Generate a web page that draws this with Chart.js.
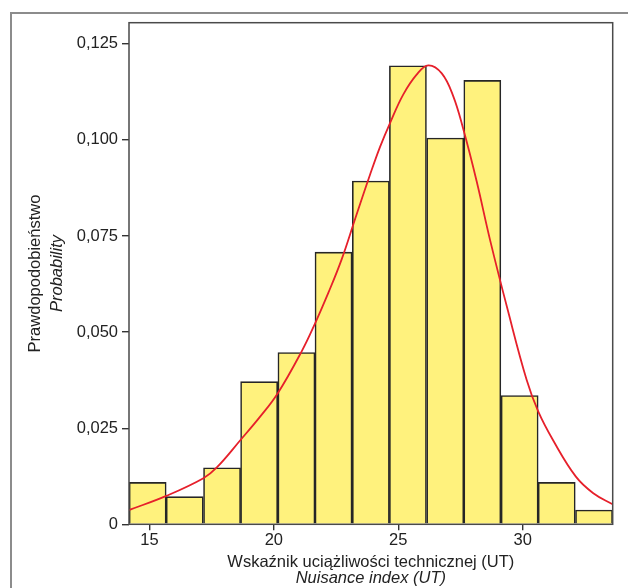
<!DOCTYPE html>
<html>
<head>
<meta charset="utf-8">
<script src="https://cdn.jsdelivr.net/npm/chart.js@4"></script>
<style>
  html, body { margin: 0; padding: 0; background: #fff; }
  #wrap { width: 628px; height: 588px; }
</style>
</head>
<body>
<div id="wrap"><canvas id="chart" width="628" height="588"></canvas></div>
<script>
// Histogram bins (centre of each bin, width 1.495 UT)
const binCenters = [14.93, 16.42, 17.92, 19.41, 20.91, 22.40, 23.90, 25.39, 26.89, 28.38, 29.88, 31.37, 32.87];
const binValues = [0.0109, 0.0072, 0.0147, 0.0371, 0.0447, 0.0708, 0.0893, 0.1193, 0.1005, 0.1155, 0.0335, 0.0109, 0.0037];

// Fitted density curve
const curveX = [14.18, 15.68, 17.17, 17.71, 18.67, 19.45, 20.16, 21.12, 21.66, 22.19, 22.73, 23.27, 23.87, 24.27, 24.67, 25.20, 25.74, 26.21, 26.75, 27.21, 27.62, 28.15, 28.69, 29.40, 30.16, 30.63, 31.23, 32.14, 32.84, 33.62];
const curveY = [0.0037, 0.0074, 0.0120, 0.0148, 0.0220, 0.0280, 0.0341, 0.0450, 0.0523, 0.0602, 0.0690, 0.0795, 0.0910, 0.0982, 0.1044, 0.1118, 0.1170, 0.1194, 0.1173, 0.1114, 0.1027, 0.0893, 0.0740, 0.0558, 0.0376, 0.0293, 0.0218, 0.0124, 0.0081, 0.0052];

const xTicks = [15, 20, 25, 30];
const yTicks = [0, 0.025, 0.05, 0.075, 0.1, 0.125];

const xTitle = ["Wskaźnik uciążliwości technicznej (UT)", "Nuisance index (UT)"];
const yTitle = ["Prawdopodobieństwo", "Probability"];

const FONT = "'Liberation Sans', Arial, sans-serif";

// frame, outer border and axis titles
const decor = {
    id: "decor",
    beforeDraw(chart) {
        const ctx = chart.ctx;
        ctx.save();
        ctx.strokeStyle = "#8c8c8c";
        ctx.lineWidth = 2;
        ctx.beginPath();
        ctx.moveTo(11, 588);
        ctx.lineTo(11, 13);
        ctx.lineTo(628, 13);
        ctx.stroke();
        ctx.restore();
    },
    afterDraw(chart) {
        const ctx = chart.ctx;
        const a = chart.chartArea;
        ctx.save();
        ctx.strokeStyle = "#4a4a4a";
        ctx.lineWidth = 1.5;
        ctx.strokeRect(a.left, a.top, a.right - a.left, a.bottom - a.top);

        ctx.fillStyle = "#222";
        ctx.textAlign = "center";
        ctx.textBaseline = "alphabetic";
        const cx = (a.left + a.right) / 2;
        ctx.font = "16.5px " + FONT;
        ctx.fillText(xTitle[0], cx, 566.5);
        ctx.font = "italic 16.5px " + FONT;
        ctx.fillText(xTitle[1], cx, 582.5);

        const cy = (a.top + a.bottom) / 2;
        ctx.save();
        ctx.translate(40, cy);
        ctx.rotate(-Math.PI / 2);
        ctx.font = "16.5px " + FONT;
        ctx.fillText(yTitle[0], 0, 0);
        ctx.restore();
        ctx.save();
        ctx.translate(61.5, cy);
        ctx.rotate(-Math.PI / 2);
        ctx.font = "italic 16.5px " + FONT;
        ctx.fillText(yTitle[1], 0, 0);
        ctx.restore();
        ctx.restore();
    }
};

document.addEventListener("DOMContentLoaded", () => {
    const ctx = document.getElementById("chart").getContext("2d");

    new Chart(ctx, {
        type: "bar",
        data: {
            datasets: [
                {
                    type: "line",
                    order: 0,
                    data: curveX.map((x, i) => ({ x, y: curveY[i] })),
                    borderColor: "#e6202b",
                    borderWidth: 1.8,
                    pointRadius: 0,
                    tension: 0.4,
                    fill: false,
                },
                {
                    type: "bar",
                    order: 1,
                    data: binCenters.map((x, i) => ({ x, y: binValues[i] })),
                    backgroundColor: "#fff27d",
                    borderColor: "#262626",
                    borderWidth: 1.6,
                    barPercentage: 1,
                    categoryPercentage: 1,
                    grouped: false,
                }
            ]
        },
        options: {
            responsive: false,
            animation: false,
            events: [],
            layout: { padding: { top: 22.7, right: 15.3, left: 0, bottom: 0 } },
            plugins: {
                legend: { display: false },
                tooltip: { enabled: false },
                title: { display: false },
            },
            scales: {
                x: {
                    type: "linear",
                    min: 14.18,
                    max: 33.62,
                    offset: false,
                    afterFit: s => { s.height = 588 - 524.3; },
                    afterBuildTicks: s => { s.ticks = xTicks.map(v => ({ value: v })); },
                    grid: {
                        drawOnChartArea: false,
                        drawTicks: true,
                        tickLength: 6,
                        color: "#333",
                        lineWidth: 1.4,
                        offset: false,
                    },
                    border: { display: false },
                    ticks: {
                        padding: 0,
                        color: "#222",
                        font: { family: FONT, size: 16.5 },
                        maxRotation: 0,
                        callback: v => String(v),
                    },
                },
                y: {
                    min: 0,
                    max: 0.1305,
                    afterFit: s => { s.width = 129; },
                    afterBuildTicks: s => { s.ticks = yTicks.map(v => ({ value: v })); },
                    grid: {
                        drawOnChartArea: false,
                        drawTicks: true,
                        tickLength: 7,
                        color: "#333",
                        lineWidth: 1.4,
                    },
                    border: { display: false },
                    ticks: {
                        padding: 4,
                        color: "#222",
                        font: { family: FONT, size: 16.5 },
                        callback: v => v === 0 ? "0" : v.toFixed(3).replace(".", ","),
                    },
                },
            },
        },
        plugins: [decor],
    });
});
</script>
</body>
</html>
